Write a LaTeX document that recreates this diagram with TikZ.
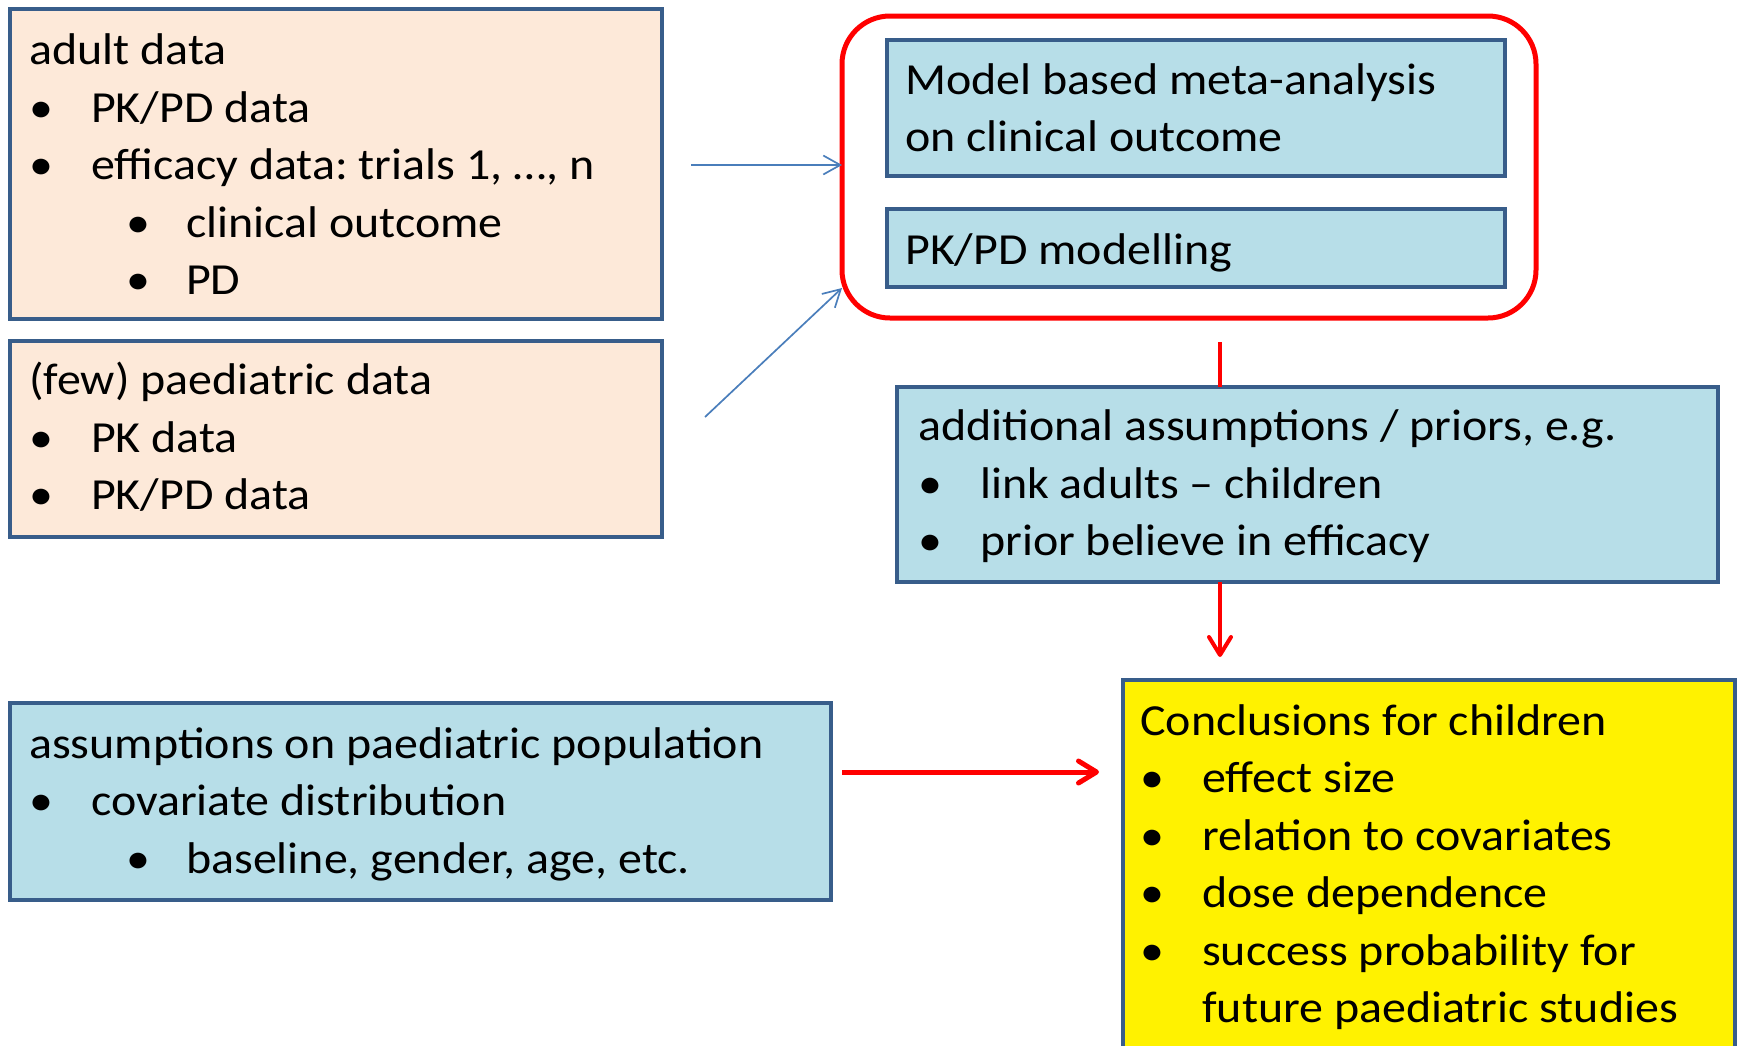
\documentclass[tikz,border=0pt]{standalone}
\usepackage{fontspec}
\setmainfont{Carlito}[FakeStretch=1.08]
\usetikzlibrary{arrows.meta}

\definecolor{peach}{HTML}{FDE9D9}
\definecolor{paleblue}{HTML}{B7DEE8}
\definecolor{frameblue}{HTML}{385D8A}
\definecolor{arrowblue}{HTML}{4A7EBB}

% bullet lines, first and second level
\newcommand{\itm}[1]{\makebox[62pt][l]{\textbullet}#1}
\newcommand{\subitm}[1]{\hspace*{97pt}\makebox[60pt][l]{\textbullet}#1}

\frenchspacing

\begin{document}
\begin{tikzpicture}[x=1pt,y=-1pt,
    panel/.style={draw=frameblue, line width=4.5pt, anchor=north west, inner sep=0pt, outer sep=0pt},
    txt/.style={anchor=north west, inner sep=0pt, align=left, font=\fontsize{44.4}{57.5}\selectfont},
    thin arrow/.style={draw=arrowblue, line width=1.7pt, -{Straight Barb[length=17pt,width=19pt]}},
    red arrow/.style={draw=red, line width=5pt, -{Straight Barb[length=18pt,width=22pt,round]}}]

  \useasboundingbox (0,0) rectangle (1738,1045);

  \begin{scope}[every node/.style={panel}]
    \node[fill=peach, minimum width=652pt, minimum height=310pt] (adult) at (10,9) {};
    \node[fill=peach, minimum width=652pt, minimum height=196pt] (paed) at (10,341) {};
    \node[draw=red, line width=5pt, rounded corners=48pt, minimum width=694pt, minimum height=302pt] (group) at (842,16) {};
    \node[fill=paleblue, minimum width=618pt, minimum height=136pt] (model) at (887,40) {};
    \node[fill=paleblue, minimum width=618pt, minimum height=78pt] (pkpd) at (887,209) {};
    \node[fill=paleblue, minimum width=821pt, minimum height=195pt] (addl) at (897,387) {};
    \node[fill=yellow, minimum width=612pt, minimum height=420pt] (concl) at (1123,680) {};
    \node[fill=paleblue, minimum width=821pt, minimum height=197pt] (assume) at (10,703) {};
  \end{scope}

  \begin{scope}[every node/.style={txt}]
    \node (adult-txt) at (29,24.4) {\strut adult data\\
      \itm{PK/PD data}\\
      \itm{efficacy data: trials 1, …, n}\\
      \subitm{clinical outcome}\\
      \subitm{PD}};
    \node (paed-txt) at (29,354.4) {\strut (few) paediatric data\\
      \itm{PK data}\\
      \itm{PK/PD data}};
    \node (model-txt) at (905,53.75) {\strut Model based meta-analysis\\
      on clinical outcome};
    \node (pkpd-txt) at (905,223.75) {\strut PK/PD modelling};
    \node (addl-txt) at (918,400.4) {\strut additional assumptions / priors, e.g.\\
      \itm{link adults – children}\\
      \itm{prior believe in efficacy}};
    \node (concl-txt) at (1140,694.75) {\strut Conclusions for children\\
      \itm{effect size}\\
      \itm{relation to covariates}\\
      \itm{dose dependence}\\
      \itm{success probability for}\\
      \hspace*{62pt}future paediatric studies};
    \node (assume-txt) at (29,717.75) {\strut assumptions on paediatric population\\
      \itm{covariate distribution}\\
      \subitm{baseline, gender, age, etc.}};
  \end{scope}

  % free ends of the connectors
  \coordinate (in1) at (691,165);
  \coordinate (in2) at (705,417);
  \coordinate (down) at (1220,342);
  \coordinate (side) at (842,772);

  \draw[thin arrow] (in1) -- (in1 -| group.west);
  \draw[thin arrow] (in2) -- ([yshift=30pt]group.south west);
  \draw[red, line width=4pt] (down) -- (down |- addl.north);
  \draw[red arrow, line width=4pt, shorten >=23pt] (down |- addl.south) -- (down |- concl.north);
  \draw[red arrow, shorten >=24pt] (side) -- (side -| concl.west);

\end{tikzpicture}
\end{document}
